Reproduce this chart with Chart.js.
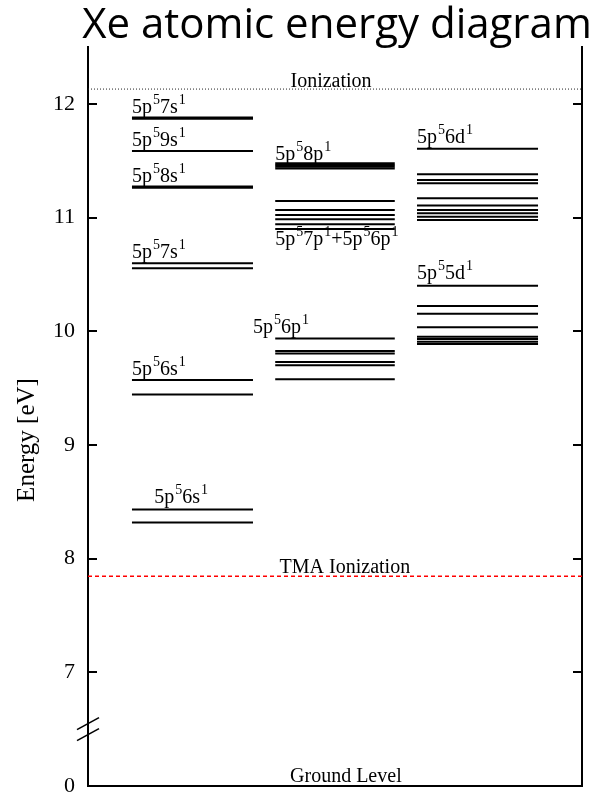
<!DOCTYPE html>
<html lang="en">
<head>
<meta charset="UTF-8">
<title>Xe atomic energy diagram</title>
<script src="https://cdn.jsdelivr.net/npm/chart.js"></script>
<style>
  html, body { margin: 0; padding: 0; background: #fff; }
  #chart { display: block; }
</style>
</head>
<body>
<canvas id="chart" width="599" height="794"></canvas>
<script>
// level energies in eV
// (the axis is broken: value 6 is drawn as the 0 eV ground level)
const sLevels = [8.318, 8.432, 9.444, 9.570, 10.554, 10.598, 11.262, 11.274, 11.586, 11.868, 11.880];
const pLevels = [9.577, 9.700, 9.729, 9.805, 9.826, 9.937, 10.900, 10.941, 10.985, 11.023, 11.067, 11.146, 11.432, 11.447, 11.462, 11.477];
const dLevels = [9.887, 9.908, 9.931, 9.952, 10.034, 10.154, 10.222, 10.401, 10.979, 11.008, 11.038, 11.067, 11.105, 11.170, 11.302, 11.331, 11.381, 11.604];
const ionization = 12.13;
const tmaIonization = 7.845;
const groundLevel = 6;
const yTicks = [6, 7, 8, 9, 10, 11, 12];
const yTickLabels = ['0', '7', '8', '9', '10', '11', '12'];
const configNames = ['5p^57s^1', '5p^59s^1', '5p^58s^1', '5p^57s^1', '5p^56s^1', '5p^56s^1',
                     '5p^58p^1', '5p^57p^1+5p^56p^1', '5p^56p^1', '5p^56d^1', '5p^55d^1'];

// where things go (x in 0..10 units across the plot, y in axis units)
const columns = [
  { levels: sLevels, from: 0.89, to: 3.34 },
  { levels: pLevels, from: 3.79, to: 6.21 },
  { levels: dLevels, from: 6.66, to: 9.11 }
];
const configSpots = [
  [0.89, 11.921], [0.89, 11.630], [0.89, 11.313], [0.89, 10.644], [0.89, 9.614], [1.34, 8.486],
  [3.79, 11.507], [3.79, 10.762], [3.34, 9.984], [6.66, 11.66], [6.66, 10.457]
];
const SERIF = '"Liberation Serif", "Times New Roman", serif';

const datasets = [
  { data: [{x: 0, y: ionization}, {x: 10, y: ionization}], borderColor: '#222', borderWidth: 1, borderDash: [1, 2] },
  { data: [{x: 0, y: tmaIonization}, {x: 10, y: tmaIonization}], borderColor: '#ff0000', borderWidth: 1.5, borderDash: [4, 3] }
];
columns.forEach(c => {
  c.levels.forEach(e => {
    datasets.push({ data: [{x: c.from, y: e}, {x: c.to, y: e}], borderColor: '#000', borderWidth: 2 });
  });
});
datasets.forEach(d => { d.showLine = true; d.pointRadius = 0; });

function drawConfig(ctx, str, x, y) {
  // "^" marks a one-character superscript
  let cx = x;
  for (let i = 0; i < str.length; i++) {
    if (str[i] === '^') {
      i++;
      ctx.font = '14px ' + SERIF;
      ctx.fillText(str[i], cx + 1, y - 9);
      cx += ctx.measureText(str[i]).width + 1;
    } else {
      ctx.font = '20px ' + SERIF;
      ctx.fillText(str[i], cx, y);
      cx += ctx.measureText(str[i]).width;
    }
  }
}

const extras = {
  id: 'extras',
  afterDraw(chart) {
    const { ctx, chartArea: a, scales: { x, y } } = chart;
    ctx.save();
    ctx.strokeStyle = '#000';
    ctx.fillStyle = '#000';

    // inward tick marks on both vertical axes
    ctx.lineWidth = 2;
    y.ticks.forEach(t => {
      if (t.value === groundLevel) return;
      const py = Math.round(y.getPixelForValue(t.value));
      ctx.beginPath();
      ctx.moveTo(a.left, py); ctx.lineTo(a.left + 9, py);
      ctx.moveTo(a.right, py); ctx.lineTo(a.right - 9, py);
      ctx.stroke();
    });

    // axis break marks
    const by = y.getPixelForValue(6.5);
    ctx.lineWidth = 1.6;
    [-5.5, 5.5].forEach(off => {
      ctx.beginPath();
      ctx.moveTo(a.left - 11, by + off + 6);
      ctx.lineTo(a.left + 11, by + off - 6);
      ctx.stroke();
    });

    // text on the lines
    ctx.textBaseline = 'alphabetic';
    ctx.textAlign = 'center';
    ctx.font = '20px ' + SERIF;
    ctx.fillText('Ionization', x.getPixelForValue(4.92), y.getPixelForValue(ionization) - 2);
    ctx.fillText('TMA Ionization', x.getPixelForValue(5.2), y.getPixelForValue(tmaIonization) - 3);
    ctx.fillText('Ground Level', x.getPixelForValue(5.22), y.getPixelForValue(groundLevel) - 4);

    ctx.textAlign = 'left';
    configNames.forEach((n, i) => {
      drawConfig(ctx, n, x.getPixelForValue(configSpots[i][0]), y.getPixelForValue(configSpots[i][1]));
    });

    // axis title
    ctx.save();
    ctx.translate(27, 440);
    ctx.rotate(-Math.PI / 2);
    ctx.textAlign = 'center';
    ctx.textBaseline = 'middle';
    ctx.font = '25px ' + SERIF;
    ctx.fillText('Energy [eV]', 0, 0);
    ctx.restore();

    // chart title
    ctx.textAlign = 'center';
    ctx.font = '42px "Open Sans"';
    ctx.fillText('Xe atomic energy diagram', 337, 38);
    ctx.restore();
  }
};

new Chart(document.getElementById('chart'), {
  type: 'scatter',
  data: { datasets },
  options: {
    responsive: false,
    animation: false,
    events: [],
    layout: { padding: { top: 47, left: 0, right: 0, bottom: 0 } },
    plugins: { legend: { display: false }, tooltip: { enabled: false }, title: { display: false } },
    scales: {
      x: {
        type: 'linear', min: 0, max: 10,
        ticks: { display: false },
        grid: { display: false, drawTicks: false },
        border: { display: true, color: '#000', width: 2 },
        afterFit: s => { s.height = 8; s.paddingLeft = 0; s.paddingRight = 0; }
      },
      y: {
        type: 'linear', min: 6, max: 12.5,
        afterBuildTicks: s => { s.ticks = yTicks.map(v => ({ value: v })); },
        ticks: {
          color: '#000', padding: 13,
          font: { family: SERIF, size: 22 },
          callback: v => yTickLabels[yTicks.indexOf(v)] ?? ''
        },
        grid: { display: false, drawTicks: false },
        border: { display: true, color: '#000', width: 2 },
        afterFit: s => { s.width = 88; s.paddingTop = 0; s.paddingBottom = 0; }
      },
      y2: {
        type: 'linear', position: 'right', min: 6, max: 12.5,
        ticks: { display: false },
        grid: { display: false, drawTicks: false },
        border: { display: true, color: '#000', width: 2 },
        afterFit: s => { s.width = 17; s.paddingTop = 0; s.paddingBottom = 0; }
      }
    }
  },
  plugins: [extras]
});
</script>
</body>
</html>
